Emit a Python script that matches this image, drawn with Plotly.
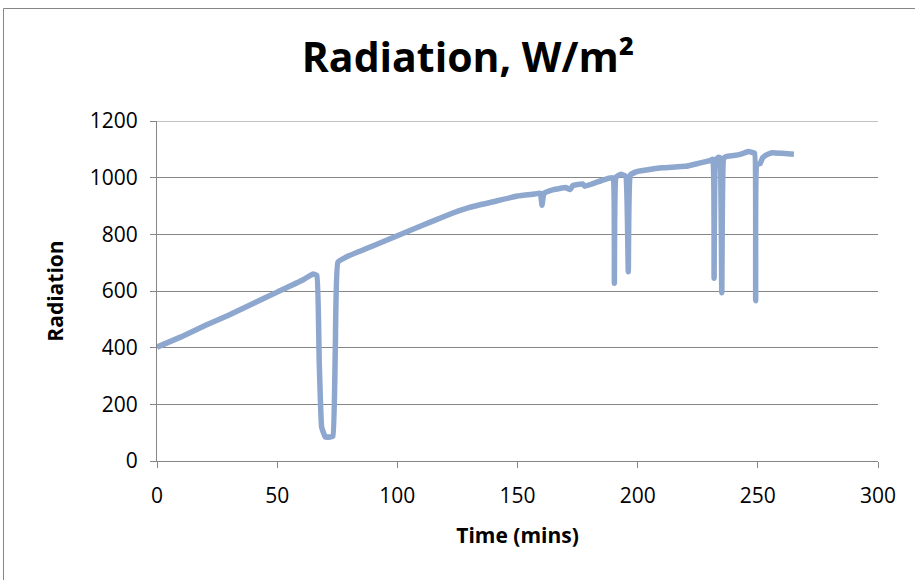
import plotly.graph_objects as go

time_min = [0, 10, 20, 30, 40, 50, 60, 65, 66.5, 67.5, 68.5, 70, 72, 73.2, 74.2, 75.3,
            80, 90, 100, 110, 120, 130, 140, 150, 157, 159.5, 160.2, 161, 165, 170, 171.9, 173,
            177, 178, 185, 189.5, 190.3, 191, 193, 195, 196.1, 197, 200, 210, 220, 225, 230,
            231.3, 231.8, 232.4, 233.5, 234.2, 235, 235.8, 237, 240, 243, 246, 248,
            248.7, 249.1, 249.6, 251, 252, 254, 256, 260, 265]
radiation = [402, 438, 478, 515, 556, 596, 636, 660, 655, 350, 120, 85, 85, 88, 400, 702,
             725, 760, 795, 830, 865, 895, 915, 935, 942, 945, 903, 945, 958, 965, 958, 972,
             978, 970, 990, 1000, 627, 1002, 1012, 1005, 668, 1010, 1022, 1035, 1040, 1050, 1060,
             1065, 645, 1060, 1072, 1070, 594, 1068, 1075, 1078, 1083, 1092, 1088,
             1086, 566, 1045, 1050, 1070, 1082, 1088, 1086, 1083]

x_ticks = [0, 50, 100, 150, 200, 250, 300]
y_ticks = [0, 200, 400, 600, 800, 1000, 1200]

fig = go.Figure()
fig.add_trace(go.Scatter(
    x=time_min, y=radiation, mode="lines",
    line=dict(color="rgb(141,167,206)", width=5.5, shape="spline", smoothing=0.3),
    showlegend=False, hoverinfo="x+y",
))

W, H = 915, 580
L, R, T, B = 157, 37, 121, 119
pw, ph = W - L - R, H - T - B

def px_x(p):
    return (p - L) / pw

def px_y(p):
    return (H - B - p) / ph

fig.add_shape(type="rect", xref="paper", yref="paper",
              x0=px_x(3.5), x1=px_x(935), y0=px_y(8.5), y1=px_y(600),
              line=dict(color="#868686", width=1), fillcolor="rgba(0,0,0,0)", layer="below")
# top gridline (at the range edge)
fig.add_shape(type="line", xref="paper", yref="y", x0=0, x1=1, y0=y_ticks[-1], y1=y_ticks[-1],
              line=dict(color="#868686", width=1), layer="below")

font_family = "Open Sans, Liberation Sans, Arial, sans-serif"

fig.update_layout(
    width=W, height=H,
    margin=dict(l=L, r=R, t=T, b=B, pad=0),
    paper_bgcolor="white", plot_bgcolor="white",
    title=dict(text="<b>Radiation, W/m²</b>", x=468 / W, xanchor="center",
               y=1 - 58 / H, yanchor="middle",
               font=dict(family=font_family, size=41, color="black")),
    xaxis=dict(range=[0, 300], tickvals=x_ticks, ticktext=[str(v) for v in x_ticks],
               showgrid=False, zeroline=False, showline=True, linecolor="#868686", linewidth=1,
               ticks="outside", ticklen=6, tickcolor="#868686", ticklabelstandoff=10,
               tickfont=dict(family=font_family, size=21, color="black"),
               title=dict(text="<b>Time (mins)</b>", standoff=20,
                          font=dict(family=font_family, size=21, color="black"))),
    yaxis=dict(range=[0, 1200], tickvals=y_ticks, ticktext=[str(v) for v in y_ticks],
               showgrid=True, gridcolor="#868686", gridwidth=1, zeroline=False,
               showline=True, linecolor="#868686", linewidth=1,
               ticks="outside", ticklen=6, tickcolor="#868686", ticklabelstandoff=8,
               tickfont=dict(family=font_family, size=21, color="black"),
               title=dict(text="<b>Radiation</b>", standoff=20,
                          font=dict(family=font_family, size=21, color="black"))),
)

fig.write_html("out.html")
